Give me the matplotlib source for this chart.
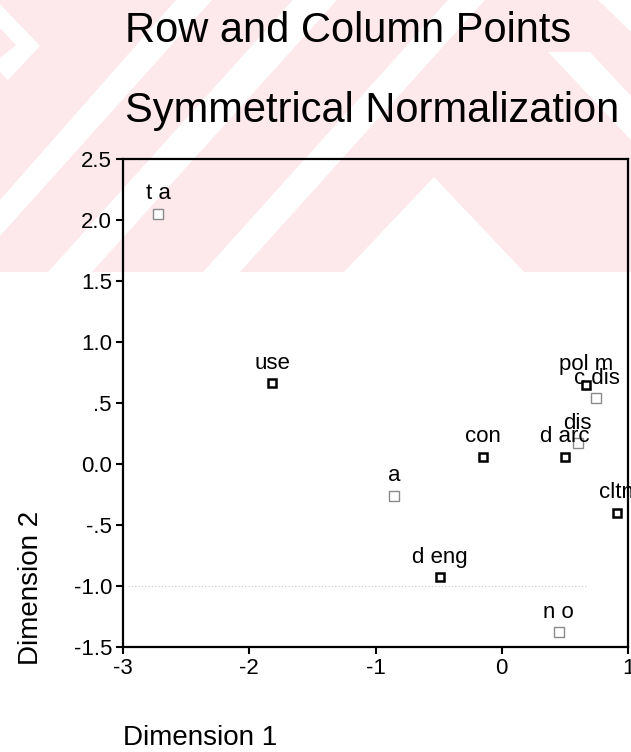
import matplotlib
matplotlib.use("Agg")
import matplotlib.pyplot as plt
from matplotlib.patches import Polygon, Rectangle

plt.rcParams["font.family"] = ["Liberation Sans", "DejaVu Sans"]

# DATA
row_labels = ["use", "con", "d arc", "pol m", "cltn", "d eng"]
row_x = [-1.82, -0.15, 0.50, 0.67, 0.91, -0.49]
row_y = [0.66, 0.06, 0.06, 0.65, -0.40, -0.93]

col_labels = ["t a", "a", "dis", "c dis", "n o"]
col_x = [-2.72, -0.85, 0.60, 0.75, 0.45]
col_y = [2.05, -0.26, 0.17, 0.54, -1.38]

xticks = [-3, -2, -1, 0, 1]
xtick_labels = ["-3", "-2", "-1", "0", "1"]
yticks = [2.5, 2.0, 1.5, 1.0, 0.5, 0.0, -0.5, -1.0, -1.5]
ytick_labels = ["2.5", "2.0", "1.5", "1.0", ".5", "0.0", "-.5", "-1.0", "-1.5"]

W, H = 631, 752
fig = plt.figure(figsize=(W / 100, H / 100), dpi=100)


def px(pts):
    # pixel coords (y down) -> figure fraction
    return [(x / W, 1 - y / H) for x, y in pts]


# WATERMARK (pale pink band with white stripes)
pink = "#fde8ec"
fig.patches.append(Rectangle((0, 1 - 272 / H), 1, 272 / H, transform=fig.transFigure,
                             facecolor=pink, edgecolor="none", zorder=-10))
white_shapes = [
    [(0, 4), (40, 46), (8, 80), (0, 72), (0, 58), (16, 45), (0, 28)],
    [(0, 200), (0, 236), (212, 0), (176, 0)],
    [(48, 272), (92, 272), (337, 0), (293, 0)],
    [(203, 272), (240, 272), (485, 0), (448, 0)],
    [(344, 272), (434, 177), (524, 272)],
    [(548, 52), (590, 52), (631, 96), (631, 140)],
    [(598, 0), (631, 0), (631, 32)],
]
for shp in white_shapes:
    fig.patches.append(Polygon(px(shp), closed=True, transform=fig.transFigure,
                               facecolor="white", edgecolor="none", zorder=-9))

# TITLES
fig.text(125 / W, 1 - 42 / H, "Row and Column Points", fontsize=30, va="baseline")
fig.text(125 / W, 1 - 122 / H, "Symmetrical Normalization", fontsize=30, va="baseline")

# PLOT
ax = fig.add_axes([123 / W, 1 - 647 / H, 505 / W, 488 / H])
ax.patch.set_alpha(0)

ax.axhline(-1.0, xmin=0.01, xmax=0.92, color="#c8c8c8", lw=0.8, ls=(0, (1, 2)), zorder=1)

ax.plot(row_x, row_y, ls="none", marker="s", ms=6, mfc="white", mec="black", mew=1.8, zorder=3)
ax.plot(col_x, col_y, ls="none", marker="s", ms=6.5, mfc="white", mec="#8a8a8a", mew=1.0, zorder=3)

for lab, x, y in zip(row_labels + col_labels, row_x + col_x, row_y + col_y):
    ax.annotate(lab, (x, y), xytext=(0, 10.5), textcoords="offset points",
                ha="center", va="baseline", fontsize=16, zorder=4)

ax.set_xlim(-3, 1)
ax.set_ylim(-1.5, 2.5)
ax.set_xticks(xticks)
ax.set_xticklabels(xtick_labels)
ax.set_yticks(yticks)
ax.set_yticklabels(ytick_labels)
ax.tick_params(axis="both", direction="out", length=5, width=1.5, labelsize=16, pad=3)
for s in ax.spines.values():
    s.set_linewidth(1.6)
    s.set_color("black")

fig.text(38 / W, 1 - 665 / H, "Dimension 2", fontsize=20, rotation=90,
         rotation_mode="anchor", ha="left", va="baseline")
fig.text(123 / W, 1 - 745 / H, "Dimension 1", fontsize=20, va="baseline")

fig.savefig("out.png", dpi=100)
